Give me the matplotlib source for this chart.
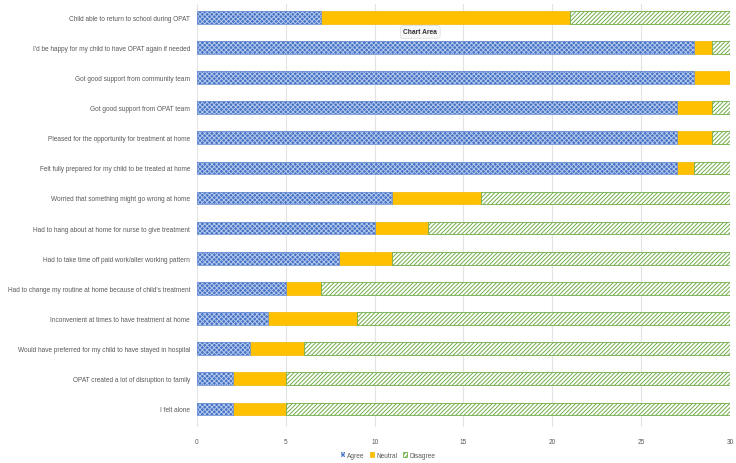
import matplotlib
matplotlib.use("Agg")
import matplotlib.pyplot as plt
import numpy as np

plt.rcParams['hatch.linewidth'] = 0.7
plt.rcParams['font.family'] = ['Liberation Sans', 'DejaVu Sans']

categories = [
    "Child able to return to school during OPAT",
    "I'd be happy for my child to have OPAT again if needed",
    "Got good support from community team",
    "Got good support from OPAT team",
    "Pleased for the opportunity for treatment at home",
    "Felt fully prepared for my child to be treated at home",
    "Worried that something might go wrong at home",
    "Had to hang about at home for nurse to give treatment",
    "Had to take time off paid work/alter working pattern",
    "Had to change my routine at home because of child's treatment",
    "Inconvenient at times to have treatment at home",
    "Would have preferred for my child to have stayed in hospital",
    "OPAT created a lot of disruption to family",
    "I felt alone",
]
agree = [7, 28, 28, 27, 27, 27, 11, 10, 8, 5, 4, 3, 2, 2]
neutral = [14, 1, 2, 2, 2, 1, 5, 3, 3, 2, 5, 3, 3, 3]
disagree = [9, 1, 0, 1, 1, 2, 14, 17, 19, 23, 21, 24, 25, 25]

blue = "#4472C4"
yellow = "#FFC000"
green = "#70AD47"
text_col = "#595959"

fig = plt.figure(figsize=(7.36, 4.64), dpi=100)
ax = fig.add_axes([0.2677, 0.0776, 0.7241, 0.9124])

y = np.arange(len(categories))[::-1]
agree = np.array(agree)
neutral = np.array(neutral)
disagree = np.array(disagree)
h = 0.42

ax.barh(y, agree, height=h, color=blue, edgecolor="#B4C7EC", hatch="xxxxxxx",
        linewidth=0, label="Agree", zorder=3)
ax.barh(y, agree, height=h, color="none", edgecolor="#6F93D6", linewidth=0.6, zorder=4)
ax.barh(y, neutral, left=agree, height=h, color=yellow, edgecolor="#F5BC1A",
        linewidth=0.6, label="Neutral", zorder=3)
ax.barh(y, disagree, left=agree + neutral, height=h, color="white", edgecolor=green,
        hatch="////////", linewidth=0.6, label="Disagree", zorder=3)

ax.set_xlim(0, 30)
ax.set_ylim(-0.6, 13.45)
ax.set_xticks(range(0, 31, 5))
ax.set_yticks(y)
ax.set_yticklabels(categories)
ax.tick_params(axis="both", length=0, labelsize=4.7, colors=text_col)
ax.tick_params(axis="y", pad=5)
ax.tick_params(axis="x", pad=8)
ax.grid(axis="x", color="#E3E3E3", linewidth=0.8, zorder=0)
for s in ax.spines.values():
    s.set_visible(False)

ax.text(0.571, 0.929, "Chart Area", transform=fig.transFigure, fontsize=4.8,
        color="#333333", ha="center", va="center", fontweight="bold",
        bbox=dict(boxstyle="round,pad=0.45", fc="#F7F7F7", ec="#DDDDDD", lw=0.5))

leg = fig.legend(loc="center", bbox_to_anchor=(0.527, 0.017), ncol=3, frameon=False,
                 fontsize=4.7, handlelength=0.7, handleheight=0.7, handletextpad=0.3,
                 columnspacing=0.8, labelcolor=text_col)

fig.savefig("out.png", dpi=100)
